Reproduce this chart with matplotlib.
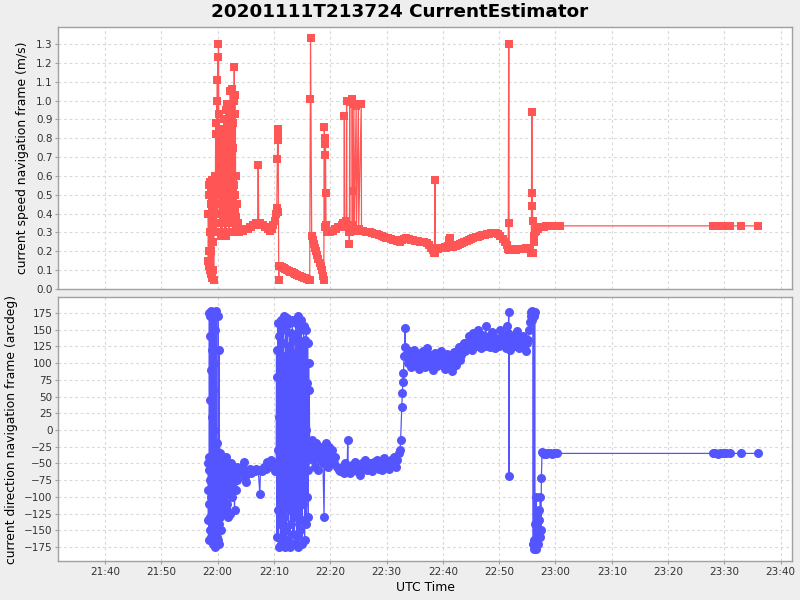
import pandas as pd
import matplotlib
matplotlib.use("Agg")
import matplotlib.pyplot as plt
import matplotlib.dates as mdates
from matplotlib.ticker import FixedLocator, FormatStrFormatter

TITLE = "20201111T213724 CurrentEstimator"
START = pd.Timestamp("2020-11-11 21:00:00")

# time of each sample, in minutes after 21:00 UTC
speed_minutes = [
    # burst around 22:00
    58.30, 58.35, 58.40, 58.45, 58.50, 58.55, 58.60, 58.65, 58.70, 58.75,
    58.80, 58.85, 58.90, 58.95, 59.00, 59.05, 59.10, 59.15, 59.20, 59.25,
    59.30, 59.35, 59.45, 59.55, 59.65, 59.70, 59.75, 59.80, 59.85, 59.90,
    59.95, 60.00, 60.05, 60.10, 60.15, 60.20, 60.25, 60.30, 60.35, 60.40,
    60.45, 60.50, 60.55, 60.60, 60.65, 60.70, 60.75, 60.80, 60.85, 60.90,
    60.95, 61.00, 61.05, 61.10, 61.15, 61.20, 61.25, 61.30, 61.35, 61.40,
    61.45, 61.50, 61.55, 61.60, 61.65, 61.70, 61.75, 61.80, 61.85, 61.90,
    61.95, 62.00, 62.05, 62.10, 62.15, 62.20, 62.25, 62.30, 62.35, 62.40,
    62.45, 62.50, 62.55, 62.60, 62.65, 62.70, 62.75, 62.80, 62.85, 62.90,
    62.95, 63.00, 63.05, 63.10, 63.15, 63.20, 63.25, 63.30, 63.40, 63.50,
    63.60, 63.80, 64.00,
    # 22:04 - 22:11
    64.2, 64.5, 64.8, 65.1, 65.4, 65.7, 66.0, 66.3, 66.6, 66.9,
    67.1, 67.2, 67.3, 67.5, 67.8, 68.1, 68.4, 68.7, 69.0, 69.3,
    69.6, 69.9, 70.2, 70.4, 70.5, 70.6, 70.65, 70.7, 70.75, 70.8,
    70.85, 70.9,
    # slow decline to 22:16
    71.1, 71.4, 71.7, 72.0, 72.3, 72.6, 72.9, 73.2, 73.5, 73.8,
    74.1, 74.4, 74.7, 75.0, 75.3, 75.6, 75.9, 76.2, 76.35,
    76.45, 76.5, 76.7, 76.9, 77.1, 77.3, 77.5, 77.7, 77.9, 78.1,
    78.3, 78.5, 78.7, 78.85,
    78.95, 79.0, 79.05, 79.1, 79.15, 79.2, 79.25, 79.35,
    # 22:20 - 22:26 with spikes
    79.6, 79.9, 80.2, 80.5, 80.8, 81.1, 81.4, 81.7, 82.0, 82.2,
    82.45, 82.5, 82.55, 82.85, 82.9, 82.95, 83.3, 83.4, 83.45, 83.5,
    83.85, 83.9, 83.95, 84.0, 84.2, 84.25, 84.6, 84.65, 85.0, 85.05,
    85.5, 85.55,
    # 22:26 - 22:39
    85.9, 86.3, 86.7, 87.1, 87.5, 87.9, 88.3, 88.7, 89.1, 89.5,
    89.9, 90.3, 90.7, 91.1, 91.5, 91.9, 92.3, 92.7, 93.1, 93.5,
    93.9, 94.3, 94.7, 95.1, 95.5, 95.9, 96.3, 96.7, 97.1, 97.5,
    97.9, 98.2, 98.5, 98.6, 98.65, 98.8,
    # 22:39 - 22:50
    99.1, 99.4, 99.7, 100.0, 100.3, 100.6, 100.9, 101.1, 101.2, 101.3,
    101.5, 101.8, 102.1, 102.4, 102.7, 103.0, 103.4, 103.8, 104.2, 104.6,
    105.0, 105.4, 105.8, 106.2, 106.6, 107.0, 107.4, 107.8, 108.2, 108.6,
    109.0, 109.4, 109.8,
    # 22:50 - end
    110.2, 110.6, 111.0, 111.3, 111.6, 111.7, 111.75, 111.8, 112.1, 112.4,
    112.7, 113.0, 113.3, 113.6, 113.9, 114.2, 114.5, 114.8, 115.1, 115.4,
    115.7, 115.8, 115.85, 115.9, 115.95, 116.0, 116.1, 116.2, 116.35, 116.5,
    116.7, 116.9, 117.1, 117.4, 117.7, 118.0, 118.4, 118.8, 119.2, 119.6,
    120.0, 120.4, 120.8, 148.0, 148.4, 148.8, 149.2, 149.6, 150.0, 150.4,
    151.0, 153.0, 156.0,
]

# current speed (m/s)
speed_values = [
    0.15, 0.40, 0.20, 0.55, 0.12, 0.50, 0.30, 0.57, 0.10, 0.45,
    0.08, 0.52, 0.20, 0.58, 0.06, 0.40, 0.25, 0.55, 0.10, 0.35,
    0.05, 0.50, 0.60, 0.30, 0.82, 0.45, 0.88, 0.30, 1.00, 0.55,
    1.11, 0.40, 1.23, 0.60, 1.30, 0.93, 0.50, 0.85, 0.35, 0.75,
    0.45, 0.65, 0.28, 0.70, 0.40, 0.78, 0.35, 0.60, 0.30, 0.72,
    0.45, 0.85, 0.38, 0.90, 0.50, 0.82, 0.28, 0.75, 0.28, 0.55,
    0.28, 0.95, 0.45, 0.88, 0.35, 0.98, 0.60, 0.40, 0.96, 0.50,
    0.85, 0.30, 0.70, 0.40, 0.92, 0.55, 1.05, 0.45, 0.80, 0.35,
    0.98, 0.60, 1.06, 0.40, 0.88, 0.30, 0.75, 0.45, 1.00, 0.55,
    1.18, 0.42, 1.03, 0.50, 0.93, 0.38, 0.60, 0.35, 0.45, 0.32,
    0.35, 0.30, 0.31,
    0.31, 0.31, 0.32, 0.32, 0.32, 0.33, 0.33, 0.34, 0.34, 0.35,
    0.35, 0.66, 0.35, 0.35, 0.34, 0.34, 0.33, 0.33, 0.32, 0.31,
    0.32, 0.34, 0.36, 0.40, 0.43, 0.69, 0.79, 0.85, 0.83, 0.41,
    0.05, 0.12,
    0.12, 0.115, 0.11, 0.105, 0.10, 0.095, 0.09, 0.09, 0.085, 0.08,
    0.075, 0.07, 0.07, 0.065, 0.06, 0.06, 0.055, 0.05, 0.05,
    1.01, 1.33, 0.28, 0.26, 0.24, 0.22, 0.20, 0.18, 0.16, 0.14,
    0.12, 0.10, 0.07, 0.05,
    0.86, 0.33, 0.71, 0.77, 0.80, 0.51, 0.34, 0.30,
    0.31, 0.30, 0.31, 0.31, 0.32, 0.32, 0.33, 0.33, 0.34, 0.35,
    0.35, 0.92, 0.34, 0.36, 1.00, 0.33, 0.30, 0.24, 0.99, 0.30,
    0.34, 1.01, 0.52, 0.33, 0.98, 0.32, 0.97, 0.31, 0.98, 0.32,
    0.98, 0.31,
    0.31, 0.305, 0.30, 0.30, 0.295, 0.29, 0.29, 0.285, 0.28, 0.275,
    0.27, 0.27, 0.265, 0.26, 0.26, 0.255, 0.25, 0.26, 0.265, 0.27,
    0.265, 0.26, 0.26, 0.255, 0.255, 0.25, 0.25, 0.25, 0.245, 0.235,
    0.22, 0.205, 0.19, 0.58, 0.19, 0.21,
    0.21, 0.215, 0.22, 0.22, 0.225, 0.22, 0.23, 0.26, 0.27, 0.24,
    0.23, 0.225, 0.23, 0.23, 0.235, 0.24, 0.245, 0.25, 0.255, 0.26,
    0.265, 0.27, 0.275, 0.275, 0.28, 0.285, 0.285, 0.29, 0.29, 0.295,
    0.295, 0.295, 0.29,
    0.28, 0.265, 0.25, 0.235, 0.21, 1.30, 0.35, 0.205, 0.205, 0.21,
    0.205, 0.205, 0.21, 0.21, 0.21, 0.21, 0.21, 0.215, 0.22, 0.22,
    0.19, 0.94, 0.51, 0.44, 0.36, 0.19, 0.25, 0.28, 0.30, 0.31,
    0.32, 0.32, 0.33, 0.33, 0.33, 0.33, 0.335, 0.335, 0.335, 0.335,
    0.335, 0.335, 0.335, 0.335, 0.335, 0.335, 0.335, 0.335, 0.335, 0.335,
    0.335, 0.335, 0.335,
]

direction_minutes = [
    # first burst
    58.30, 58.33, 58.36, 58.40, 58.43, 58.46, 58.50, 58.53, 58.56, 58.60,
    58.63, 58.66, 58.70, 58.73, 58.76, 58.80, 58.83, 58.86, 58.90, 58.93,
    58.96, 59.00, 59.03, 59.06, 59.10, 59.13, 59.16, 59.20, 59.23, 59.26,
    59.30, 59.33, 59.36, 59.40, 59.43, 59.46, 59.50, 59.53, 59.56, 59.60,
    59.63, 59.66, 59.70, 59.73, 59.76, 59.80, 59.83, 59.86, 59.90, 59.93,
    59.96, 60.00, 60.05, 60.10, 60.15, 60.20, 60.25, 60.30, 60.35, 60.40,
    60.45, 60.50, 60.55, 60.60, 60.65, 60.70, 60.75, 60.80, 60.85, 60.90,
    60.95, 61.00, 61.10, 61.20, 61.30, 61.40, 61.50, 61.60, 61.70, 61.80,
    61.90, 62.00, 62.10, 62.20, 62.30, 62.40, 62.50, 62.60, 62.70, 62.80,
    62.90, 63.00, 63.10, 63.20, 63.30, 63.40, 63.50, 63.60, 63.80, 64.00,
    # 22:04 - 22:10
    64.3, 64.6, 64.9, 65.1, 65.4, 65.7, 66.0, 66.3, 66.6, 66.9,
    67.2, 67.5, 67.6, 67.9, 68.2, 68.5, 68.8, 69.1, 69.4, 69.7,
    70.0, 70.2,
    # second burst
    70.40, 70.46, 70.52, 70.58, 70.64, 70.70, 70.76, 70.82, 70.88, 70.94,
    71.00, 71.06, 71.12, 71.18, 71.24, 71.30, 71.36, 71.42, 71.48, 71.54,
    71.60, 71.66, 71.72, 71.78, 71.84, 71.90, 71.96, 72.02, 72.08, 72.14,
    72.20, 72.26, 72.32, 72.38, 72.44, 72.50, 72.56, 72.62, 72.68, 72.74,
    72.80, 72.86, 72.92, 72.98, 73.04, 73.10, 73.16, 73.22, 73.28, 73.34,
    73.40, 73.46, 73.52, 73.58, 73.64, 73.70, 73.76, 73.82, 73.88, 73.94,
    74.00, 74.06, 74.12, 74.18, 74.24, 74.30, 74.36, 74.42, 74.48, 74.54,
    74.60, 74.66, 74.72, 74.78, 74.84, 74.90, 74.96, 75.02, 75.08, 75.14,
    75.20, 75.26, 75.32, 75.38, 75.44, 75.50, 75.56, 75.62, 75.68, 75.74,
    75.80, 75.86, 75.92, 75.98, 76.04, 76.10, 76.16, 76.22, 76.28, 76.34,
    # 22:16 - 22:21
    76.50, 76.70, 76.90, 77.10, 77.30, 77.50, 77.70, 77.90, 78.10, 78.30,
    78.50, 78.70, 78.90, 79.00, 79.20, 79.40, 79.60, 79.80, 80.00, 80.30,
    80.60, 80.90, 81.20, 81.50,
    # 22:21 - 22:32
    81.8, 82.1, 82.4, 82.7, 83.0, 83.1, 83.2, 83.5, 83.8, 84.1,
    84.4, 84.7, 85.0, 85.3, 85.6, 85.9, 86.2, 86.5, 86.8, 87.1,
    87.4, 87.7, 88.0, 88.3, 88.6, 88.9, 89.2, 89.5, 89.8, 90.1,
    90.4, 90.7, 91.0, 91.3, 91.6, 91.9, 92.2,
    # turn at 22:33
    92.4, 92.5, 92.7, 92.8, 92.9, 93.0, 93.1, 93.2, 93.3, 93.35,
    93.6, 93.8, 94.0, 94.2, 94.4, 94.6, 94.8, 95.0, 95.2, 95.4,
    95.6, 95.8, 96.0, 96.2, 96.4, 96.6, 96.8, 97.0, 97.2, 97.4,
    97.6, 97.8, 98.0, 98.2, 98.4, 98.6, 98.8, 99.0, 99.2, 99.4,
    99.6, 99.8, 100.0, 100.2, 100.4, 100.6, 100.8, 101.0, 101.2, 101.4,
    101.6, 101.8, 102.0, 102.2, 102.4, 102.6, 102.8, 103.0,
    103.2, 103.4, 103.6, 103.8,
    # 22:44 - 22:55
    104.0, 104.2, 104.4, 104.6, 104.8, 105.0, 105.2, 105.4, 105.6, 105.8,
    106.0, 106.2, 106.4, 106.6, 106.8, 107.0, 107.2, 107.4, 107.6, 107.8,
    108.0, 108.2, 108.4, 108.6, 108.8, 109.0, 109.2, 109.4, 109.6, 109.8,
    110.0, 110.2, 110.4, 110.6, 110.8, 111.0, 111.2, 111.4, 111.6, 111.7,
    111.75, 111.8, 112.0, 112.2, 112.4, 112.6, 112.8, 113.0, 113.2, 113.4,
    113.6, 113.8, 114.0, 114.2, 114.4, 114.6, 114.8, 115.0,
    # flip near 22:56 and the tail
    115.2, 115.35, 115.5, 115.6, 115.7, 115.8, 115.9, 116.0, 116.05, 116.1,
    116.15, 116.2, 116.25, 116.3, 116.35, 116.4, 116.5, 116.6, 116.7, 116.8,
    116.9, 117.0, 117.1, 117.2, 117.3, 117.4, 117.5, 117.6, 117.7, 117.9,
    118.1, 118.4, 118.7, 119.0, 119.4, 119.8, 120.3, 148.0, 148.4, 148.8,
    149.3, 149.8, 150.2, 151.0, 153.0, 156.0,
]

# current direction (arcdeg)
direction_values = [
    -50, -90, -135, -60, -165, -40, -110, 175, -150, 140,
    -75, 170, -130, 45, -160, 90, -100, 178, -60, 20,
    -145, 120, -85, 172, -170, 60, -120, 176, -40, -155,
    100, -70, -165, 0, -125, 175, -90, -175, -50, 150,
    -140, -30, -110, 178, -60, -160, -20, -95, -150, -40,
    -120, -70, -165, 170, -100, -140, 120, -170, -80, -130,
    -35, -110, -60, -150, -90, -45, -125, -70, -40, -105,
    -55, -85, -45, -120, -60, -95, -40, -110, -70, -130,
    -55, -90, -65, -125, -75, -50, -100, -60, -85, -55,
    -70, -120, -65, -90, -60, -75, -55, -65, -60, -62,
    -55, -48, -70, -78, -62, -58, -65, -60, -62, -58,
    -60, -96, -60, -62, -55, -58, -48, -52, -45, -55,
    -50, -62,
    -50, 120, -160, 80, -120, 160, -30, -175, 140, 20,
    -140, 100, -80, 165, -170, 60, -100, 150, 0, -160,
    130, -50, 170, -130, 40, -175, 110, -90, 155, -20,
    -150, 90, -110, 168, -60, 30, -165, 125, -40, 160,
    -120, 70, -175, 145, -10, -140, 100, -70, 165, -155,
    50, -100, 135, -30, -170, 115, 10, -130, 160, -80,
    80, -160, 140, -45, -120, 170, -175, 60, -90, 150,
    20, -150, 110, -60, 165, -135, 40, -170, 125, -25,
    -110, 155, -70, 90, -165, 135, -50, 0, -140, 150,
    -100, 70, -20, 130, -60, -130, 100, -40, 60, -30,
    -30, -15, -45, -25, -55, -20, -40, -60, -30, -45,
    -25, -50, -130, -40, -20, -35, -55, -25, -45, -30,
    -50, -40, -55, -60,
    -62, -55, -65, -50, -60, -15, -58, -65, -52, -60,
    -48, -62, -55, -68, -50, -58, -45, -60, -55, -50,
    -62, -48, -55, -45, -58, -50, -60, -42, -55, -48,
    -58, -45, -52, -40, -55, -45, -35,
    -30, -15, 35, 55, 72, 85, 110, 124, 152, 110,
    112, 100, 118, 105, 95, 110, 120, 102, 98, 115,
    108, 92, 112, 105, 118, 100, 95, 110, 122, 104,
    98, 112, 106, 90, 108, 115, 100, 96, 112, 104,
    118, 99, 105, 110, 92, 108, 114, 100, 97, 112,
    88, 106, 116, 102, 98, 110, 124, 105,
    112, 125, 118, 130,
    118, 130, 122, 140, 128, 135, 120, 145, 132, 125,
    138, 150, 128, 134, 122, 142, 130, 126, 155, 135,
    128, 140, 124, 132, 146, 130, 122, 138, 128, 135,
    125, 150, 132, 140, 128, 136, 122, 155, 145, 177,
    -69, 130, 120, 138, 130, 142, 126, 134, 148, 128,
    122, 136, 130, 140, 125, 132, 118, 130,
    135, 150, 162, 170, 176, 165, 178, 172, -170, 175,
    -178, 170, -165, 176, -175, -140, -178, -100, -160, -125,
    -170, -135, -120, -160, -100, -150, -72, -33, -35, -36,
    -35, -36, -35, -35, -36, -35, -35, -35, -35, -36,
    -35, -35, -35, -35, -35, -35,
]

speed_ticks = [0.0, 0.1, 0.2, 0.3, 0.4, 0.5, 0.6, 0.7, 0.8, 0.9, 1.0, 1.1, 1.2, 1.3]
direction_ticks = [-175, -150, -125, -100, -75, -50, -25, 0, 25, 50, 75, 100, 125, 150, 175]

RED = "#ff5555"
BLUE = "#5555ff"
AXIS_GRAY = "#a0a0a0"


def to_time(minutes):
    return START + pd.to_timedelta(minutes, unit="min")


def style_axes(ax):
    ax.set_facecolor("white")
    for spine in ax.spines.values():
        spine.set_color(AXIS_GRAY)
        spine.set_linewidth(1.0)
    ax.grid(True, color="#d9d9d9", linestyle=(0, (2.5, 2.5)), linewidth=0.8)
    ax.set_axisbelow(True)
    ax.tick_params(labelsize=7.5, labelcolor="#333333", color=AXIS_GRAY,
                   length=2, pad=2)


fig = plt.figure(figsize=(8, 6), dpi=100, facecolor="#eeeeee")
ax1 = fig.add_axes([0.0725, 0.5183, 0.9175, 0.4367])
ax2 = fig.add_axes([0.0725, 0.065, 0.9175, 0.44], sharex=ax1)

ax1.plot(to_time(speed_minutes), speed_values, color=RED, linewidth=0.9,
         marker="s", markersize=6.0, markeredgewidth=0)
ax2.plot(to_time(direction_minutes), direction_values, color=BLUE, linewidth=0.9,
         marker="o", markersize=6.5, markeredgewidth=0)

for ax in (ax1, ax2):
    style_axes(ax)

ax1.set_ylim(0, 1.39)
ax1.yaxis.set_major_locator(FixedLocator(speed_ticks))
ax1.yaxis.set_major_formatter(FormatStrFormatter("%.1f"))
ax1.set_ylabel("current speed navigation frame (m/s)", fontsize=8.9, labelpad=5)
ax1.tick_params(axis="x", bottom=False, labelbottom=False)

ax2.set_ylim(-196, 199)
ax2.yaxis.set_major_locator(FixedLocator(direction_ticks))
ax2.set_ylabel("current direction navigation frame (arcdeg)", fontsize=8.9)
ax2.set_xlabel("UTC Time", fontsize=8.9, labelpad=3)

xlim = to_time([31.65, 162.0])
ax2.set_xlim(xlim[0], xlim[1])
ax2.xaxis.set_major_locator(mdates.MinuteLocator(byminute=range(0, 60, 10)))
ax2.xaxis.set_major_formatter(mdates.DateFormatter("%H:%M"))

fig.text(0.5, 1 - 12 / 600, TITLE, ha="center", va="center",
         fontsize=13.2, fontweight="bold")

fig.savefig("out.png", dpi=100, facecolor=fig.get_facecolor())
